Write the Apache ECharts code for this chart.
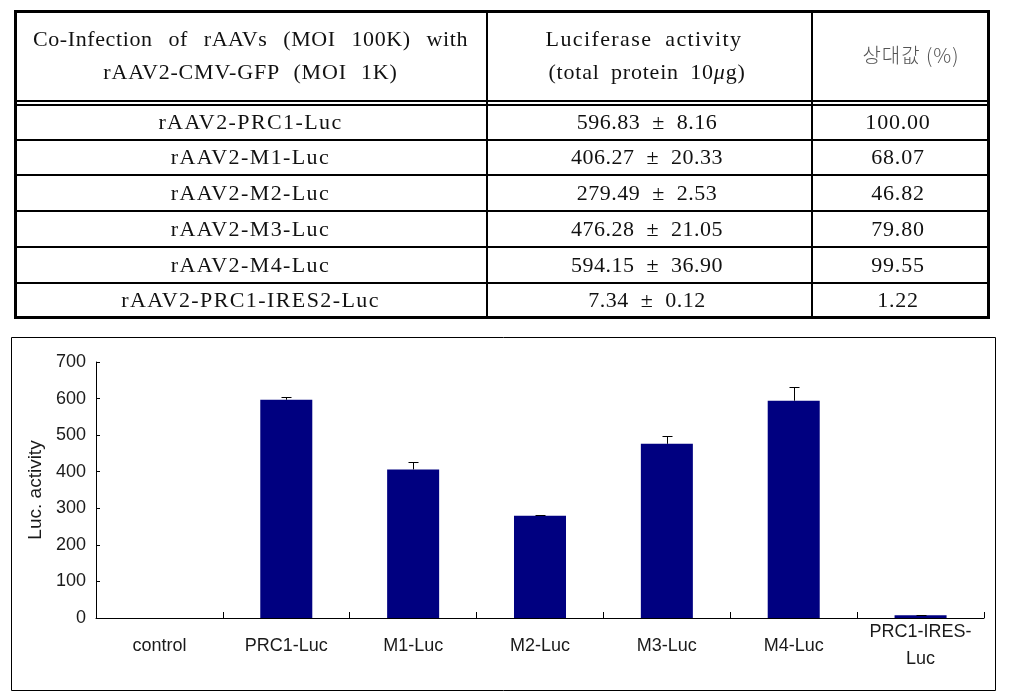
<!DOCTYPE html>
<html>
<head>
<meta charset="utf-8">
<script src="https://cdn.jsdelivr.net/npm/echarts@6/dist/echarts.min.js"></script>
<style>
  html, body { margin: 0; padding: 0; background: #fff; }
  #wrap { position: relative; width: 1009px; height: 696px; overflow: hidden; background: #fff; }
  #chart { position: absolute; left: 0; top: 0; width: 1009px; height: 696px; }
  #table { position: absolute; left: 0; top: 0; width: 1009px; height: 330px; z-index: 2;
           font-family: "Liberation Serif", "Times New Roman", serif; color: #111; }
  .ln { position: absolute; background: #000; }
  .cell { position: absolute; text-align: center; white-space: pre; font-size: 22px; letter-spacing: 0.8px; line-height: 26px; }
</style>
</head>
<body>
<div id="wrap">
  <div id="chart"></div>
  <div id="table"></div>
</div>
<script>
// ---------- Data ----------
const headerCol1 = ["Co-Infection of rAAVs (MOI 100K) with", "rAAV2-CMV-GFP (MOI 1K)"];
const headerCol2 = ["Luciferase activity", "(total protein 10", "μ", "g)"];
const headerCol3 = "상대값 (%)";
const rowNames = ["rAAV2-PRC1-Luc", "rAAV2-M1-Luc", "rAAV2-M2-Luc", "rAAV2-M3-Luc", "rAAV2-M4-Luc", "rAAV2-PRC1-IRES2-Luc"];
const rowMeans = ["596.83", "406.27", "279.49", "476.28", "594.15", "7.34"];
const rowSDs = ["8.16", "20.33", "2.53", "21.05", "36.90", "0.12"];
const rowRelative = ["100.00", "68.07", "46.82", "79.80", "99.55", "1.22"];

const categories = ["control", "PRC1-Luc", "M1-Luc", "M2-Luc", "M3-Luc", "M4-Luc", "PRC1-IRES-Luc"];
const barValues = [0, 596.83, 406.27, 279.49, 476.28, 594.15, 7.34];
const barErrors = [0, 8.16, 20.33, 2.53, 21.05, 36.90, 0.12];
const yTicks = [0, 100, 200, 300, 400, 500, 600, 700];

// ---------- Table (HTML) ----------
const T = document.getElementById('table');
function line(l, t, w, h) {
  const d = document.createElement('div');
  d.className = 'ln';
  d.style.left = l + 'px'; d.style.top = t + 'px';
  d.style.width = w + 'px'; d.style.height = h + 'px';
  T.appendChild(d);
}
function cell(html, cx, cy, extra) {
  const d = document.createElement('div');
  d.className = 'cell';
  d.innerHTML = html;
  d.style.left = (cx - 300) + 'px';
  d.style.width = '600px';
  d.style.top = (cy - 13) + 'px';
  if (extra) Object.assign(d.style, extra);
  T.appendChild(d);
}
const L = 14, R = 990, TOP = 10, BOT = 319;
const C1 = 487, C2 = 812;
// outer border
line(L, TOP, R - L, 3);
line(L, BOT - 3, R - L, 3);
line(L, TOP, 3, BOT - TOP);
line(R - 3, TOP, 3, BOT - TOP);
// column lines
line(C1 - 1, TOP, 2, BOT - TOP);
line(C2 - 1, TOP, 2, BOT - TOP);
// header double line
line(L, 100, R - L, 2);
line(L, 103.5, R - L, 2);
// row lines
const rowLines = [139.5, 175, 211, 247, 283];
rowLines.forEach(y => line(L, y - 1, R - L, 2));
const rowTops = [105, 140.5, 176, 212, 248, 284];
const rowBots = [138.5, 174, 210, 246, 282, 316];

// header text
(function () {
  const d = document.createElement('div');
  d.className = 'cell';
  d.style.left = '33px'; d.style.width = '435px'; d.style.top = (39 - 13) + 'px';
  d.style.textAlign = 'justify'; d.style.textAlignLast = 'justify'; d.style.whiteSpace = 'normal';
  d.style.letterSpacing = '0.6px';
  d.textContent = headerCol1[0];
  T.appendChild(d);
})();
cell(headerCol1[1], (L + C1) / 2, 72, { wordSpacing: '8px' });
cell(headerCol2[0], 644, 39, { wordSpacing: '6px', letterSpacing: '1.4px' });
cell(headerCol2[1] + '<i>' + headerCol2[2] + '</i>' + headerCol2[3], 647, 72, { wordSpacing: '5px' });
cell(headerCol3, 911, 55, { fontFamily: '"Noto Sans CJK KR", sans-serif', fontSize: '20px', fontWeight: '300', color: '#555', letterSpacing: '1px' });

for (let i = 0; i < rowNames.length; i++) {
  const cy = (rowTops[i] + rowBots[i]) / 2;
  cell(rowNames[i], (L + C1) / 2, cy, { letterSpacing: '1.4px' });
  cell(rowMeans[i] + '  ±  ' + rowSDs[i], 647, cy, { whiteSpace: 'pre', letterSpacing: '0.5px' });
  cell(rowRelative[i], 898, cy);
}

// ---------- Chart (ECharts) ----------
const chart = echarts.init(document.getElementById('chart'), null, { renderer: 'canvas' });
const errData = categories.map((c, i) => [i, barValues[i], barErrors[i]]);

chart.setOption({
  animation: false,
  backgroundColor: 'transparent',
  graphic: [{
    type: 'rect',
    shape: { x: 11.5, y: 337.5, width: 984, height: 353 },
    style: { fill: 'none', stroke: '#000', lineWidth: 1 },
    silent: true, z: -1
  }],
  grid: { left: 96, right: 25, top: 362, bottom: 78, containLabel: false },
  xAxis: {
    type: 'category',
    data: categories,
    boundaryGap: true,
    axisLine: { lineStyle: { color: '#000', width: 1 } },
    axisTick: { show: true, inside: true, length: 6, alignWithLabel: false, lineStyle: { color: '#000' } },
    axisLabel: {
      color: '#1a1a1a', fontFamily: 'Liberation Sans, Arial, sans-serif', fontSize: 18,
      margin: 28, verticalAlign: 'middle', lineHeight: 27, interval: 0,
      formatter: v => v.replace('IRES-', 'IRES-\n')
    },
    splitLine: { show: false }
  },
  yAxis: {
    type: 'value',
    min: yTicks[0], max: yTicks[yTicks.length - 1], interval: 100,
    name: 'Luc. activity',
    nameLocation: 'middle', nameGap: 48,
    nameTextStyle: { color: '#1a1a1a', fontFamily: 'Liberation Sans, Arial, sans-serif', fontSize: 19 },
    axisLine: { show: true, lineStyle: { color: '#000', width: 1 } },
    axisTick: { show: true, inside: true, length: 4, lineStyle: { color: '#000' } },
    axisLabel: { color: '#1a1a1a', fontFamily: 'Liberation Sans, Arial, sans-serif', fontSize: 18, margin: 10 },
    splitLine: { show: false }
  },
  series: [{
    type: 'bar',
    data: barValues,
    barWidth: '41%',
    itemStyle: { color: '#000080' },
    z: 2
  }, {
    type: 'custom',
    data: errData,
    z: 3,
    renderItem: function (params, api) {
      const x = api.value(0), v = api.value(1), e = api.value(2);
      if (!e) return null;
      const p0 = api.coord([x, v]);
      const p1 = api.coord([x, v + e]);
      const cx = Math.round(p0[0]) + 0.5;
      const ty = Math.round(p1[1]) + 0.5;
      return {
        type: 'group',
        children: [
          { type: 'line', shape: { x1: cx, y1: p0[1], x2: cx, y2: ty }, style: { stroke: '#000', lineWidth: 1 } },
          { type: 'line', shape: { x1: cx - 5, y1: ty, x2: cx + 5, y2: ty }, style: { stroke: '#000', lineWidth: 1 } }
        ]
      };
    }
  }]
});
</script>
</body>
</html>
